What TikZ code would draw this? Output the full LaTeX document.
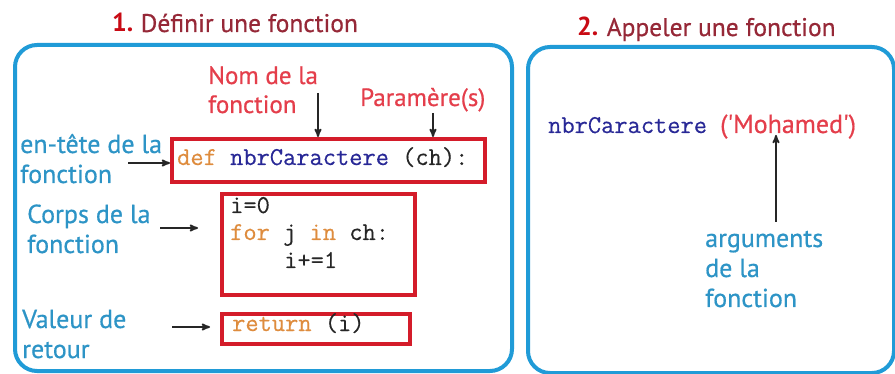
\documentclass[tikz,border=0pt]{standalone}
\usepackage{fontspec}
\setmainfont{PT Sans}
\newfontfamily\etiqfam[FakeBold=0.6]{PT Sans}
\newfontfamily\codefam[FakeBold=0.4]{Latin Modern Mono}
\usetikzlibrary{arrows,positioning}

\definecolor{cadrebleu}{RGB}{32,155,215}
\definecolor{rougeboite}{RGB}{212,28,42}
\definecolor{rougenum}{RGB}{200,10,20}
\definecolor{bordeaux}{RGB}{150,40,55}
\definecolor{rougeetiq}{RGB}{228,62,75}
\definecolor{bleuetiq}{RGB}{45,148,198}
\definecolor{orangecode}{RGB}{222,140,62}
\definecolor{marine}{RGB}{40,40,150}

\newcommand{\etiqfont}{\etiqfam\fontsize{26}{30}\selectfont}
\newcommand{\codefont}{\codefam\fontsize{25.7}{27}\selectfont}

\begin{document}
\begin{tikzpicture}[x=1pt,y=-1pt,>=stealth',
  cadre/.style={draw=cadrebleu,line width=4pt,rounded corners=22pt},
  boite/.style={draw=rougeboite,line width=4pt,inner sep=0pt,anchor=north west},
  etiq/.style={text=bleuetiq,font=\etiqfont,align=left,inner sep=0pt,anchor=base west},
  nomfn/.style={text=rougeetiq,font=\etiqfam\fontsize{25}{29}\selectfont,align=left,inner sep=0pt,anchor=base west},
  code/.style={font=\codefont,text=black!85,inner sep=0pt,anchor=base west,align=left},
  num/.style={text=rougenum,font=\fontsize{26}{28}\selectfont\bfseries,inner sep=0pt,anchor=base west},
  titre/.style={text=bordeaux,font=\etiqfam\fontsize{25.5}{28}\selectfont,inner sep=0pt,anchor=base west},
  fleche/.style={->,line width=1.8pt,black!85}]
  \useasboundingbox (0,0) rectangle (895,374);

  % cadres
  \node[cadre,minimum width=497,minimum height=326,anchor=north west] (defcadre) at (13,43) {};
  \node[cadre,minimum width=366,minimum height=326,anchor=north west] (appcadre) at (526,45) {};

  % titres
  \node[num] (t1n) at (112,32) {1.};
  \node[titre] (t1) at ([xshift=7]t1n.base east) {Définir une fonction};
  \node[num] (t2n) at (577,36) {2.};
  \node[titre] (t2) at ([xshift=8]t2n.base east) {Appeler une fonction};

  % 1. definir
  \node[nomfn] (nom) at (208,113) {Nom de la\\fonction};
  \node[nomfn] (param) at (360,106) {Paramère(s)};

  \node[boite,minimum width=313,minimum height=43] (entete) at (170,137) {};
  \node[code] (sig) at (177,165) {\textcolor{orangecode}{def} \textcolor{marine}{nbrCaractere} (ch):};

  \node[boite,minimum width=193,minimum height=101] (corps) at (220,192) {};
  \node[code] (c1) at (230,213) {i=0};
  \node[code] (c2) at (230,240) {\textcolor{orangecode}{for} j \textcolor{orangecode}{in} ch:};
  \node[code] (c3) at (284,268) {i+=1};

  \node[boite,minimum width=188,minimum height=30] (retour) at (220,312) {};
  \node[code] (r1) at (232,331) {\textcolor{orangecode}{return} (i)};

  \node[etiq] (lentete) at (20,183) {en-tête de la\\fonction};
  \node[etiq] (lcorps) at (27,253) {Corps de la\\fonction};
  \node[etiq] (lretour) at (22,358) {Valeur de\\retour};

  \coordinate (fn) at (318,93);
  \coordinate (fp) at (433,113);
  \coordinate (fe) at (128,163);
  \coordinate (fc) at (160,228);
  \coordinate (fr) at (172,327);

  \draw[fleche] (fn) -- (fn |- entete.north);
  \draw[fleche] (fp) -- (fp |- entete.north);
  \draw[fleche] (fe) -- (entete.west |- fe);
  \draw[fleche] (fc) -- ([xshift=-22]corps.west |- fc);
  \draw[fleche] (fr) -- ([xshift=-10]retour.west |- fr);

  % 2. appeler
  \node[code,text=marine] (appel) at (548,133) {nbrCaractere};
  \node[nomfn,font=\etiqfam\fontsize{26}{30}\selectfont] (arg) at (720,133) {(\textquotesingle Mohamed\textquotesingle)};
  \node[etiq] (larg) at (705,307) {arguments\\de la\\fonction};

  \coordinate (fa) at (776,222);
  \draw[fleche] (fa) -- ([yshift=4]fa |- arg.south);
\end{tikzpicture}
\end{document}
